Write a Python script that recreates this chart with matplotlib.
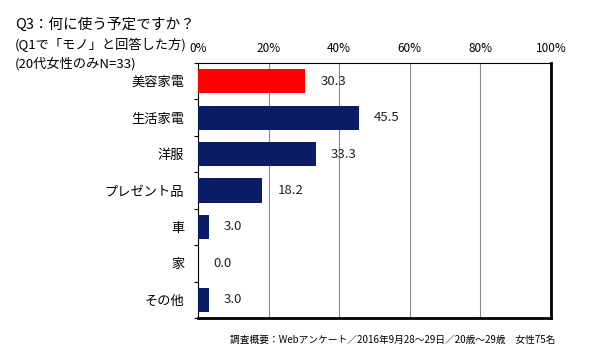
import matplotlib
matplotlib.use('Agg')
import matplotlib.pyplot as plt

plt.rcParams['font.family'] = ['Noto Sans CJK JP', 'DejaVu Sans']

categories = ['美容家電', '生活家電', '洋服', 'プレゼント品', '車', '家', 'その他']
values = [30.3, 45.5, 33.3, 18.2, 3.0, 0.0, 3.0]
bar_colors = ['#ff0000', '#0c1c66', '#0c1c66', '#0c1c66', '#0c1c66', '#0c1c66', '#0c1c66']
xticks = [0, 20, 40, 60, 80, 100]
xtick_labels = ['0%', '20%', '40%', '60%', '80%', '100%']

fig = plt.figure(figsize=(5.9, 3.54), dpi=100)
W, H = 590, 354
ax = fig.add_axes([198 / W, 1 - 318 / H, (551 - 198) / W, (318 - 63) / H])

pos = list(range(len(categories)))
ax.barh(pos, values, height=0.66, color=bar_colors, zorder=3)
for p, v in zip(pos, values):
    ax.annotate('{:.1f}'.format(v), (v, p), xytext=(11, 0), textcoords='offset points',
                va='center', ha='left', fontsize=9.5, color='#222222', zorder=4)

ax.set_xlim(0, 100)
ax.set_ylim(len(categories) - 0.5, -0.5)
ax.set_xticks(xticks)
ax.set_xticklabels(xtick_labels, fontsize=8.5)
ax.xaxis.tick_top()
ax.tick_params(axis='x', length=0, pad=6)
ax.set_yticks(pos)
ax.set_yticklabels(categories, fontsize=9.5)
ax.tick_params(axis='y', length=0, pad=10)
# small tick marks at category boundaries on the left spine
ax.set_yticks([i - 0.5 for i in range(len(categories) + 1)], minor=True)
ax.tick_params(axis='y', which='minor', length=3, width=0.8, direction='out')
ax.grid(axis='x', color='#888888', linewidth=0.8, zorder=0)

ax.spines['left'].set_linewidth(0.8)
ax.spines['top'].set_linewidth(0.8)
ax.spines['right'].set_linewidth(2)
ax.spines['bottom'].set_linewidth(2)

fig.text(15 / W, 1 - 25 / H, 'Q3：何に使う予定ですか？', fontsize=10.5, va='center', ha='left')
fig.text(15 / W, 1 - 45 / H, '(Q1で「モノ」と回答した方)', fontsize=9.5, va='center', ha='left')
fig.text(15 / W, 1 - 64 / H, '(20代女性のみN=33)', fontsize=9.5, va='center', ha='left')

fig.text(555 / W, 1 - 340 / H, '調査概要：Webアンケート／2016年9月28〜29日／20歳〜29歳　女性75名',
         fontsize=7, va='center', ha='right')

fig.savefig('out.png', dpi=100, facecolor='white')
